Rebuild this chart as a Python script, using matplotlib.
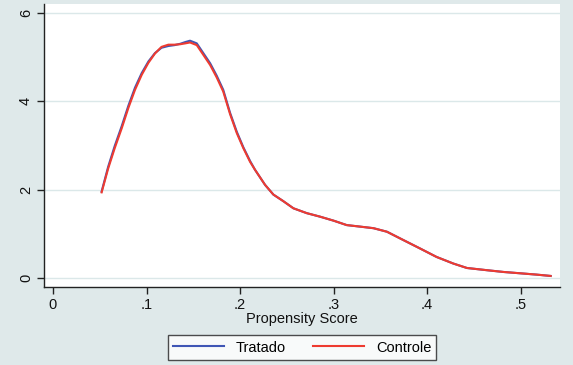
import matplotlib
matplotlib.use("Agg")
import matplotlib.pyplot as plt

# Kernel density of the propensity score, treated vs. control
score = [0.052, 0.059, 0.066, 0.0735, 0.0806, 0.0877, 0.0949, 0.102, 0.109, 0.116,
         0.1233, 0.130, 0.136, 0.1415, 0.1465, 0.1537, 0.1607, 0.168, 0.175, 0.182,
         0.1893, 0.1965, 0.2035, 0.2107, 0.216, 0.2267, 0.2356, 0.2463, 0.257, 0.2713,
         0.2856, 0.300, 0.314, 0.3265, 0.3426, 0.357, 0.3747, 0.3925, 0.410, 0.428,
         0.4425, 0.4638, 0.4816, 0.4995, 0.517, 0.532]
tratado = [1.96, 2.52, 2.99, 3.44, 3.90, 4.31, 4.64, 4.90, 5.09, 5.21,
           5.25, 5.27, 5.30, 5.34, 5.37, 5.31, 5.09, 4.86, 4.58, 4.26,
           3.74, 3.31, 2.96, 2.65, 2.45, 2.11, 1.89, 1.74, 1.58, 1.47,
           1.39, 1.30, 1.20, 1.17, 1.13, 1.05, 0.86, 0.67, 0.48, 0.33,
           0.23, 0.18, 0.14, 0.11, 0.08, 0.05]
controle = [1.94, 2.48, 2.94, 3.39, 3.85, 4.26, 4.60, 4.87, 5.08, 5.23,
            5.28, 5.28, 5.29, 5.31, 5.33, 5.27, 5.05, 4.82, 4.54, 4.22,
            3.71, 3.28, 2.94, 2.63, 2.45, 2.11, 1.89, 1.74, 1.58, 1.47,
            1.39, 1.30, 1.20, 1.17, 1.13, 1.05, 0.86, 0.67, 0.48, 0.33,
            0.23, 0.18, 0.14, 0.11, 0.08, 0.05]

x_ticks = [0, 0.1, 0.2, 0.3, 0.4, 0.5]
x_tick_labels = ["0", ".1", ".2", ".3", ".4", ".5"]
y_ticks = [0, 2, 4, 6]
y_tick_labels = ["0", "2", "4", "6"]

plt.rcParams["font.family"] = ["Liberation Sans", "DejaVu Sans"]

bg = "#dfe9ea"
fig = plt.figure(figsize=(5.73, 3.65), dpi=100, facecolor=bg)
ax = fig.add_axes([44 / 573, 1 - 287 / 365, (560 - 44) / 573, (287 - 4) / 365])
ax.set_facecolor("white")

for y in y_ticks:
    ax.axhline(y, color="#dbe8e9", lw=1.0, zorder=0)

ax.plot(score, tratado, color="#3f56b5", lw=1.5, label="Tratado", zorder=3,
        solid_joinstyle="round")
ax.plot(score, controle, color="#ee3b30", lw=1.5, label="Controle", zorder=4,
        solid_joinstyle="round")

ax.set_xlim(-0.0096, 0.542)
ax.set_ylim(-0.2, 6.2)
ax.set_xticks(x_ticks)
ax.set_xticklabels(x_tick_labels)
ax.set_yticks(y_ticks)
ax.set_yticklabels(y_tick_labels, rotation=90, va="center")

for side in ("top", "right"):
    ax.spines[side].set_visible(False)
for side in ("left", "bottom"):
    ax.spines[side].set_color("#222222")
    ax.spines[side].set_linewidth(1.0)
ax.tick_params(direction="out", length=5, width=1.0, color="#222222",
               labelsize=10.5, labelcolor="#111111", pad=3)

ax.set_xlabel("Propensity Score", fontsize=10.5, color="#111111", labelpad=0)

leg = fig.legend(loc="center", bbox_to_anchor=(302 / 573, 1 - 347.5 / 365),
                 ncol=2, frameon=True, fancybox=False, fontsize=10.5,
                 handlelength=3.5, columnspacing=1.9, handletextpad=0.8,
                 borderpad=0.35)
leg.get_frame().set_edgecolor("#222222")
leg.get_frame().set_linewidth(1.0)
leg.get_frame().set_facecolor("white")

fig.savefig("out.png", dpi=100, facecolor=bg)
